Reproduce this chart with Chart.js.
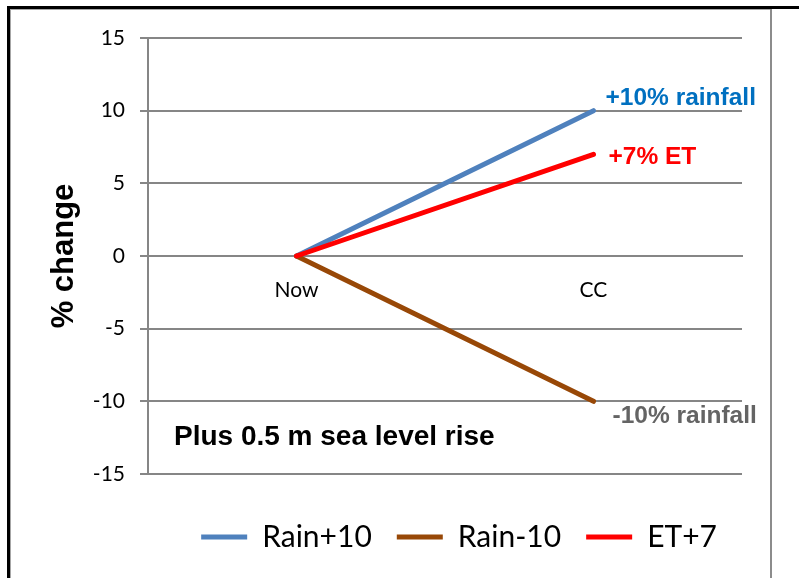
<!DOCTYPE html>
<html>
<head>
<meta charset="utf-8">
<script src="https://cdn.jsdelivr.net/npm/chart.js@4/dist/chart.umd.min.js"></script>
<style>
  html, body { margin: 0; padding: 0; background: #fff; }
  canvas { display: block; }
</style>
</head>
<body>
<canvas id="c" width="799" height="578"></canvas>
<script>
// Scenario categories and % change per series
const categories = ['Now', 'CC'];
const rainPlus10 = [0, 10];
const rainMinus10 = [0, -10];
const etPlus7 = [0, 7];
const yTicks = [-15, -10, -5, 0, 5, 10, 15];
const seriesNames = ['Rain+10', 'Rain-10', 'ET+7'];
const endLabels = ['+10% rainfall', '-10% rainfall', '+7% ET'];
const noteText = 'Plus 0.5 m sea level rise';

const lineColors = ['#4F81BD', '#984807', '#FF0000'];
const labelColors = ['#0070C0', '#646464', '#FF0000'];
const calibriLike = 'Lato, "Open Sans", sans-serif';
const arialLike = '"Liberation Sans", Arial, sans-serif';

// Outer frame of the chart object
const framePlugin = {
  id: 'frame',
  beforeDraw(chart) {
    const ctx = chart.ctx;
    ctx.save();
    ctx.fillStyle = '#ffffff';
    ctx.fillRect(0, 0, chart.width, chart.height);
    ctx.fillStyle = '#a6a6a6';
    ctx.fillRect(10, 9, 760, 1);
    ctx.fillRect(10, 9, 1, chart.height - 9);
    ctx.fillStyle = '#8c8c8c';
    ctx.fillRect(770, 9, 2, chart.height - 9);
    ctx.fillStyle = '#000000';
    ctx.fillRect(7, 6, chart.width - 7, 3);
    ctx.fillRect(7, 6, 3, chart.height - 6);
    ctx.restore();
  }
};

// Text next to the end point of each series, plus the scenario note
const annotationPlugin = {
  id: 'endNotes',
  afterDatasetsDraw(chart) {
    const ctx = chart.ctx;
    const offsets = [[12, -12], [19, 15], [15, 3]];
    ctx.save();
    ctx.textBaseline = 'middle';
    ctx.textAlign = 'left';
    ctx.font = 'bold 24.5px ' + arialLike;
    endLabels.forEach((txt, i) => {
      const meta = chart.getDatasetMeta(i);
      const pt = meta.data[meta.data.length - 1];
      ctx.fillStyle = labelColors[i];
      ctx.fillText(txt, pt.x + offsets[i][0], pt.y + offsets[i][1]);
    });
    const area = chart.chartArea;
    ctx.fillStyle = '#000000';
    ctx.font = 'bold 28px ' + arialLike;
    ctx.fillText(noteText, area.left + 26, area.bottom - 37);
    ctx.restore();
  }
};

const seriesData = [rainPlus10, rainMinus10, etPlus7];

new Chart(document.getElementById('c'), {
  type: 'line',
  data: {
    labels: categories,
    datasets: seriesNames.map((name, i) => ({
      label: name,
      data: seriesData[i],
      borderColor: lineColors[i],
      backgroundColor: lineColors[i],
      borderWidth: 5,
      borderCapStyle: 'round',
      borderJoinStyle: 'round',
      pointRadius: 0,
      pointHoverRadius: 0,
      pointStyle: 'line',
      tension: 0,
      fill: false,
      order: 2 - i
    }))
  },
  options: {
    responsive: false,
    animation: false,
    events: [],
    layout: { padding: { left: 8, right: 57, top: 38, bottom: 16 } },
    plugins: {
      tooltip: { enabled: false },
      legend: {
        position: 'bottom',
        align: 'end',
        title: { display: true, text: '', font: { size: 10, lineHeight: 1 }, padding: { top: 6.5, bottom: 6.5 } },
        labels: {
          usePointStyle: true,
          pointStyleWidth: 46,
          padding: 25,
          color: '#000',
          font: { family: calibriLike, size: 30 },
          sort: (a, b) => a.datasetIndex - b.datasetIndex
        }
      }
    },
    scales: {
      x: {
        type: 'category',
        position: { y: 0 },
        offset: true,
        grid: { display: false, drawTicks: false },
        border: { display: true, color: '#868686', width: 2 },
        ticks: {
          padding: 22,
          color: '#000',
          font: { family: calibriLike, size: 21 },
          maxRotation: 0
        }
      },
      y: {
        min: -15,
        max: 15,
        afterBuildTicks(scale) { scale.ticks = yTicks.map(v => ({ value: v })); },
        afterFit(scale) { scale.width = 140; },
        grid: { color: '#868686', lineWidth: 2, tickLength: 8 },
        border: { display: true, color: '#868686', width: 2 },
        ticks: {
          padding: 15,
          color: '#000',
          font: { family: calibriLike, size: 21 }
        },
        title: {
          display: true,
          text: '% change',
          color: '#000',
          font: { family: arialLike, size: 31, weight: 'bold' },
          padding: { top: 38, bottom: 0 }
        }
      }
    }
  },
  plugins: [framePlugin, annotationPlugin]
});
</script>
</body>
</html>
